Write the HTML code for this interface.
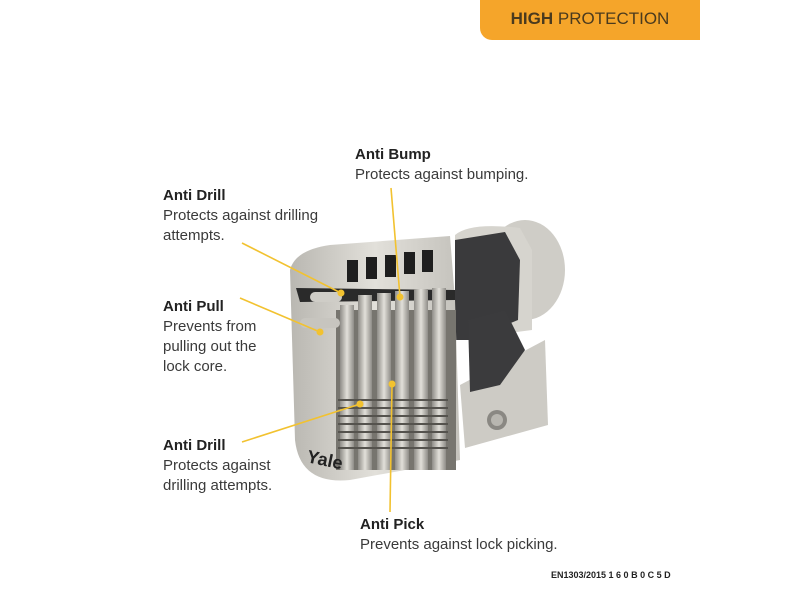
<!DOCTYPE html>
<html><head><meta charset="utf-8"><style>
body{margin:0;width:800px;height:600px;background:#fff;position:relative;overflow:hidden;font-family:"Liberation Sans",sans-serif;}
.tag{position:absolute;left:480px;top:0;width:220px;height:40px;background:#f5a52a;border-bottom-left-radius:12px;color:#4a3a1e;font-size:17px;line-height:38px;text-align:center;}
.lab{position:absolute;color:#3a3a3a;font-size:15px;line-height:20px;}
.lab b{color:#222;display:block;}
.ftr{position:absolute;left:551px;top:570px;font-size:9px;font-weight:bold;color:#222;}
svg{position:absolute;left:0;top:0}
</style></head><body>
<div class="tag"><b>HIGH</b> PROTECTION</div>
<svg width="800" height="600">
<defs>
<linearGradient id="m" x1="0" x2="1"><stop offset="0" stop-color="#b9b7b1"/><stop offset=".5" stop-color="#e2e0da"/><stop offset="1" stop-color="#c4c2bc"/></linearGradient>
<linearGradient id="p" x1="0" x2="1"><stop offset="0" stop-color="#8e8c87"/><stop offset=".5" stop-color="#e2e0da"/><stop offset="1" stop-color="#8e8c87"/></linearGradient>
</defs>
<!-- right cylinder ring -->
<ellipse cx="525" cy="270" rx="40" ry="50" fill="#cfcdc7"/>
<path d="M455 235 Q470 222 520 228 L532 250 L532 330 L455 340Z" fill="#d6d4ce"/>
<path d="M455 240 L505 232 L520 260 L518 320 L470 340 L455 340Z" fill="#3a3a3c"/>
<!-- lower right body -->
<path d="M460 385 L545 340 L548 425 L465 448Z" fill="#cdcbc5"/>
<!-- cam -->
<path d="M468 320 L505 310 L525 350 L500 385 L470 392Z" fill="#3b3b3d"/>
<circle cx="497" cy="420" r="10" fill="#8a8883"/><circle cx="497" cy="420" r="6" fill="#b8b6b0"/>
<!-- main body -->
<path d="M290 270 Q295 250 330 245 L450 236 L455 300 L460 460 L350 480 Q300 485 295 440Z" fill="url(#m)"/>
<!-- window slots -->
<g fill="#1e1e1e"><rect x="347" y="260" width="11" height="22"/><rect x="366" y="257" width="11" height="22"/><rect x="385" y="255" width="11" height="22"/><rect x="404" y="252" width="11" height="22"/><rect x="422" y="250" width="11" height="22"/></g>
<!-- cutaway interior -->
<path d="M296 288 L455 290 L455 300 L300 302Z" fill="#2a2a2a"/>
<rect x="336" y="310" width="120" height="160" fill="#77756f"/>
<g fill="url(#p)">
<rect x="340" y="305" width="14" height="165"/><rect x="358" y="295" width="14" height="175"/><rect x="377" y="293" width="14" height="177"/><rect x="395" y="291" width="14" height="179"/><rect x="414" y="289" width="14" height="181"/><rect x="432" y="288" width="14" height="182"/>
</g>
<g stroke="#55534e" stroke-width="2" fill="none">
<path d="M338 400 h110 M338 408 h110 M338 416 h110 M338 424 h110 M338 432 h110 M338 440 h110 M338 448 h110"/>
</g>
<rect x="310" y="292" width="32" height="10" rx="5" fill="#cfcdc7"/>
<rect x="300" y="318" width="40" height="10" rx="5" fill="#c7c5bf"/>
<text x="306" y="462" font-size="18" font-weight="bold" fill="#222" transform="rotate(12 306 462)" font-family="Liberation Sans">Yale</text>
<!-- connectors -->
<g stroke="#f2c230" stroke-width="1.6" fill="none">
<line x1="242" y1="243" x2="341" y2="293"/>
<line x1="240" y1="298" x2="320" y2="332"/>
<line x1="242" y1="442" x2="360" y2="404"/>
<line x1="391" y1="188" x2="400" y2="297"/>
<line x1="392" y1="384" x2="390" y2="512"/>
</g>
<g fill="#f2c230"><circle cx="341" cy="293" r="3.5"/><circle cx="320" cy="332" r="3.5"/><circle cx="360" cy="404" r="3.5"/><circle cx="400" cy="297" r="3.5"/><circle cx="392" cy="384" r="3.5"/></g>
</svg>
<div class="lab" style="left:355px;top:145px"><b>Anti Bump</b>Protects against bumping.</div>
<div class="lab" style="left:163px;top:186px"><b>Anti Drill</b>Protects against drilling<br>attempts.</div>
<div class="lab" style="left:163px;top:297px"><b>Anti Pull</b>Prevents from<br>pulling out the<br>lock core.</div>
<div class="lab" style="left:163px;top:436px"><b>Anti Drill</b>Protects against<br>drilling attempts.</div>
<div class="lab" style="left:360px;top:515px"><b>Anti Pick</b>Prevents against lock picking.</div>
<div class="ftr">EN1303/2015 1 6 0 B 0 C 5 D</div>
</body></html>
